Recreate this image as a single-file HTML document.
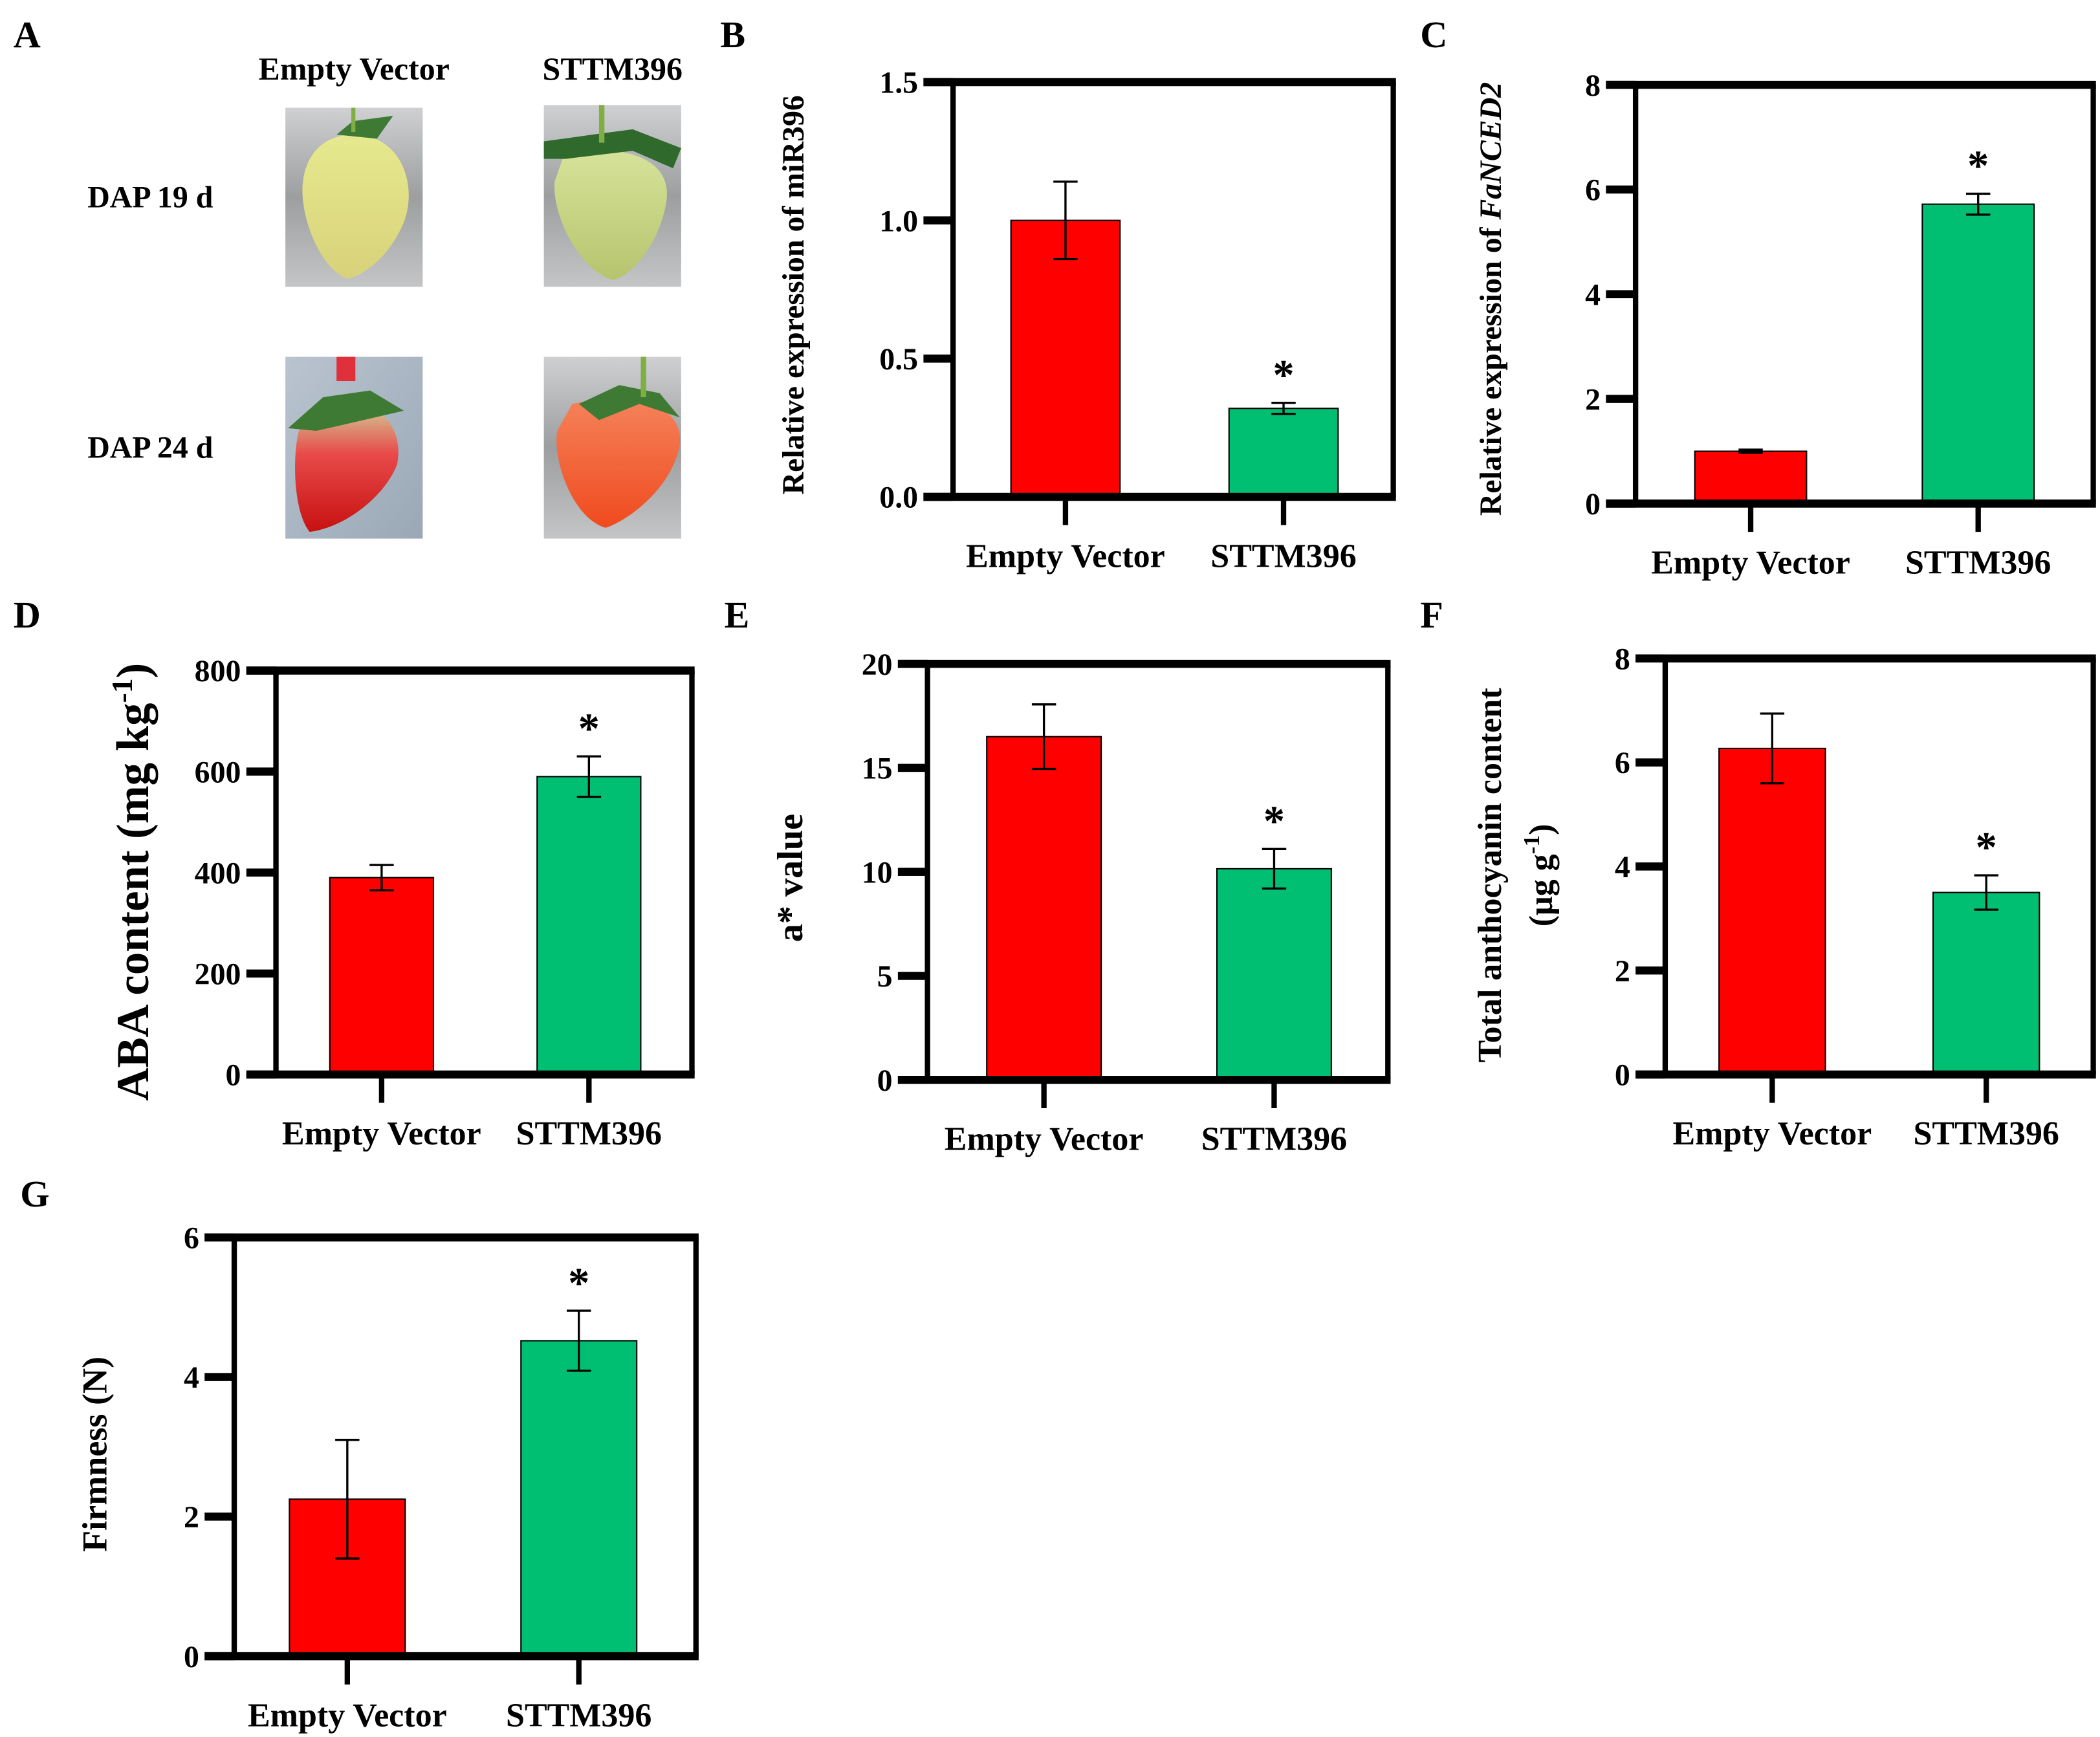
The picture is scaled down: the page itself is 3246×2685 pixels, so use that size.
<!DOCTYPE html>
<html><head><meta charset="utf-8"><style>
html,body{margin:0;padding:0;background:#fff;}
svg{display:block;}
text{font-family:"Liberation Serif",serif;font-weight:bold;fill:#000;}
</style></head><body>
<svg id="fig" width="3246" height="2685" viewBox="0 0 1560 1290" preserveAspectRatio="none" xmlns="http://www.w3.org/2000/svg">
<defs>
<linearGradient id="bgGrey" x1="0" y1="0" x2="0" y2="1"><stop offset="0" stop-color="#cfd0d2"/><stop offset="0.5" stop-color="#9c9ea0"/><stop offset="1" stop-color="#c4c5c7"/></linearGradient>
<linearGradient id="bgBlue" x1="0" y1="0" x2="1" y2="1"><stop offset="0" stop-color="#b9c4cf"/><stop offset="1" stop-color="#9aa8b6"/></linearGradient>
<linearGradient id="fYellow" x1="0" y1="0" x2="0" y2="1"><stop offset="0" stop-color="#e6e98f"/><stop offset="1" stop-color="#d8d27a"/></linearGradient>
<linearGradient id="fGreen" x1="0" y1="0" x2="0" y2="1"><stop offset="0" stop-color="#d6e39a"/><stop offset="1" stop-color="#b7c46e"/></linearGradient>
<linearGradient id="fRed" x1="0" y1="0" x2="0" y2="1"><stop offset="0" stop-color="#cfd49a"/><stop offset="0.4" stop-color="#e84a4a"/><stop offset="1" stop-color="#c81010"/></linearGradient>
<linearGradient id="fOrange" x1="0" y1="0" x2="0" y2="1"><stop offset="0" stop-color="#f5825a"/><stop offset="1" stop-color="#f04a1e"/></linearGradient>
</defs>
<g id="panelA">
<text x="10" y="35" font-size="28">A</text>
<text x="263" y="59" font-size="24" text-anchor="middle">Empty Vector</text>
<text x="455" y="59" font-size="24" text-anchor="middle">STTM396</text>
<text x="65" y="154" font-size="23">DAP 19 d</text>
<text x="65" y="340" font-size="23">DAP 24 d</text>
<g>
<rect x="212" y="80" width="102" height="133" fill="url(#bgGrey)"/>
<path d="M262,100 C300,100 310,140 300,165 C290,190 270,205 258,207 C238,200 222,160 225,135 C228,110 245,100 262,100Z" fill="url(#fYellow)"/>
<path d="M250,100 L262,90 L292,86 L280,103 Z" fill="#3f7a35"/><rect x="261" y="80" width="3" height="18" fill="#7fae42"/>
</g>
<g>
<rect x="404" y="78" width="102" height="135" fill="url(#bgGrey)"/>
<path d="M420,112 C460,108 500,115 495,150 C490,180 470,205 455,208 C430,200 410,160 412,135 Z" fill="url(#fGreen)"/>
<path d="M404,105 L440,100 L470,96 L506,110 L500,125 L470,112 L420,118 L404,118Z" fill="#2f6a2c"/><rect x="445" y="78" width="4" height="28" fill="#7fae42"/>
</g>
<g>
<rect x="212" y="265" width="102" height="135" fill="url(#bgBlue)"/>
<path d="M240,300 C285,292 300,320 295,345 C285,370 255,392 230,395 C218,380 217,340 222,320 Z" fill="url(#fRed)"/>
<path d="M214,318 L240,295 L275,290 L300,305 L270,312 L235,320Z" fill="#3f7a35"/><rect x="250" y="265" width="14" height="18" fill="#e0303a"/>
</g>
<g>
<rect x="404" y="265" width="102" height="135" fill="url(#bgGrey)"/>
<path d="M425,300 C470,290 508,300 505,330 C500,360 470,385 450,392 C425,385 410,340 414,320 Z" fill="url(#fOrange)"/>
<path d="M430,300 L460,286 L490,292 L505,310 L475,300 L445,312Z" fill="#3f7a35"/><rect x="476" y="265" width="4" height="30" fill="#7fae42"/>
</g>
</g>
<g id="charts"></g>
</svg>
<script>
// Panel B: miR396
const bCategories = ["Empty Vector", "STTM396"];
const bValues = [1.0, 0.32];
const bErrors = [0.14, 0.02];
const bTicks = ["0.0", "0.5", "1.0", "1.5"];
// Panel C: FaNCED2
const cValues = [1.0, 5.72];
const cErrors = [0.03, 0.2];
const cTicks = ["0", "2", "4", "6", "8"];
// Panel D: ABA
const dValues = [390, 590];
const dErrors = [25, 40];
const dTicks = ["0", "200", "400", "600", "800"];
// Panel E: a* value
const eValues = [16.5, 10.15];
const eErrors = [1.55, 0.95];
const eTicks = ["0", "5", "10", "15", "20"];
// Panel F: anthocyanin
const fValues = [6.27, 3.5];
const fErrors = [0.67, 0.33];
const fTicks = ["0", "2", "4", "6", "8"];
// Panel G: firmness
const gValues = [2.25, 4.52];
const gErrors = [0.85, 0.43];
const gTicks = ["0", "2", "4", "6"];
const significance = ["", "*"];

const NS = "http://www.w3.org/2000/svg";
const root = document.getElementById("charts");
function mk(tag, attrs, parent) {
  const e = document.createElementNS(NS, tag);
  for (const k in attrs) e.setAttribute(k, attrs[k]);
  (parent || root).appendChild(e);
  return e;
}
const barColors = ["#ff0000", "#00bf73"];

function drawPanel(cfg, values, errors, ticks) {
  const g = mk("g", {});
  
  
  const max = parseFloat(ticks[ticks.length - 1]);
  const y = v => cfg.bottom - (v / max) * (cfg.bottom - cfg.top);
  const lab = mk("text", {x: cfg.labX, y: cfg.labY, "font-size": 28}, g);
  lab.textContent = cfg.letter;
  
  
  values.forEach((v, i) => {
    const x0 = cfg.barX[i], w = cfg.barW;
    const r = mk("rect", {x: x0, y: y(v), width: w, height: y(0) - y(v), fill: barColors[i], stroke: "#000", "stroke-width": 1}, g);
    
    
    const cx = x0 + w / 2;
    const eg = mk("g", {stroke: "#000", "stroke-width": 1.6}, g);
    
    
    mk("line", {x1: cx, x2: cx, y1: y(v + errors[i]), y2: y(v - errors[i])}, eg);
    mk("line", {x1: cx - 9, x2: cx + 9, y1: y(v + errors[i]), y2: y(v + errors[i])}, eg);
    mk("line", {x1: cx - 9, x2: cx + 9, y1: y(v - errors[i]), y2: y(v - errors[i])}, eg);
    if (significance[i]) {
      const s = mk("text", {x: cx, y: y(v + errors[i]) - 10, "font-size": 32, "text-anchor": "middle"}, g);
      s.textContent = significance[i];
      
      
    }
    const xt = mk("rect", {x: cx - 2, y: cfg.bottom, width: 4, height: 21, fill: "#000"}, g);
    
    
    const xl = mk("text", {x: cx, y: cfg.bottom + 52, "font-size": 25, "text-anchor": "middle"}, g);
    xl.textContent = bCategories[i];
    
    
  });
  const fr = mk("g", {fill: "#000"}, g);
  
  
  mk("rect", {x: cfg.left - 22, y: cfg.top - 3, width: cfg.right - cfg.left + 24, height: 6}, fr);
  mk("rect", {x: cfg.left - 22, y: cfg.bottom - 3, width: cfg.right - cfg.left + 24, height: 6}, fr);
  mk("rect", {x: cfg.left - 2, y: cfg.top, width: 4, height: cfg.bottom - cfg.top}, fr);
  mk("rect", {x: cfg.right - 2, y: cfg.top, width: 4, height: cfg.bottom - cfg.top}, fr);
  ticks.forEach(t => {
    const yy = y(parseFloat(t));
    const tk = mk("rect", {x: cfg.left - 22, y: yy - 3, width: 22, height: 6}, fr);
    
    
    const tl = mk("text", {x: cfg.left - 26, y: yy + 8, "font-size": 23, "text-anchor": "end"}, g);
    tl.textContent = t;
    
    
  });
  const yt = mk("text", {transform: `translate(${cfg.titleX},${cfg.titleY}) rotate(-90)`, "font-size": cfg.titleSize || 20, "text-anchor": "middle"}, g);
  yt.innerHTML = cfg.title;
  
  
  if (cfg.title2) {
    const y2 = mk("text", {transform: `translate(${cfg.titleX + 38},${cfg.titleY}) rotate(-90)`, "font-size": cfg.titleSize || 20, "text-anchor": "middle"}, g);
    y2.innerHTML = cfg.title2;
    
    
  }
}

drawPanel({name: "panel-b-mir396", letter: "B", labX: 535, labY: 35, left: 708, right: 1035, top: 61, bottom: 369, barX: [751, 913], barW: 81,
  title: "Relative expression of miR396", titleX: 597, titleY: 219, titleSize: 23}, bValues, bErrors, bTicks);
drawPanel({name: "panel-c-fanced2", letter: "C", labX: 1055, labY: 35, left: 1215, right: 1555, top: 63, bottom: 374, barX: [1259, 1428], barW: 83,
  title: 'Relative expression of <tspan font-style="italic">FaNCED2</tspan>', titleX: 1115, titleY: 222, titleSize: 23}, cValues, cErrors, cTicks);
drawPanel({name: "panel-d-aba", letter: "D", labX: 10, labY: 466, left: 205, right: 514, top: 498, bottom: 798, barX: [245, 399], barW: 77,
  title: 'ABA content (mg kg<tspan baseline-shift="super" font-size="22">-1</tspan>)', titleX: 110, titleY: 655, titleSize: 34}, dValues, dErrors, dTicks);
drawPanel({name: "panel-e-a-value", letter: "E", labX: 538, labY: 466, left: 689, right: 1031, top: 493, bottom: 802, barX: [733, 904], barW: 85,
  title: "a* value", titleX: 596, titleY: 652, titleSize: 27}, eValues, eErrors, eTicks);
drawPanel({name: "panel-f-anthocyanin", letter: "F", labX: 1055, labY: 466, left: 1237, right: 1555, top: 489, bottom: 798, barX: [1277, 1436], barW: 79,
  title: "Total anthocyanin content", title2: '(μg g<tspan baseline-shift="super" font-size="17">-1</tspan>)', titleX: 1115, titleY: 650, titleSize: 25}, fValues, fErrors, fTicks);
drawPanel({name: "panel-g-firmness", letter: "G", labX: 15, labY: 896, left: 174, right: 517, top: 919, bottom: 1230, barX: [215, 387], barW: 86,
  title: "Firmness (N)", titleX: 79, titleY: 1080, titleSize: 26}, gValues, gErrors, gTicks);
</script>
</body></html>
